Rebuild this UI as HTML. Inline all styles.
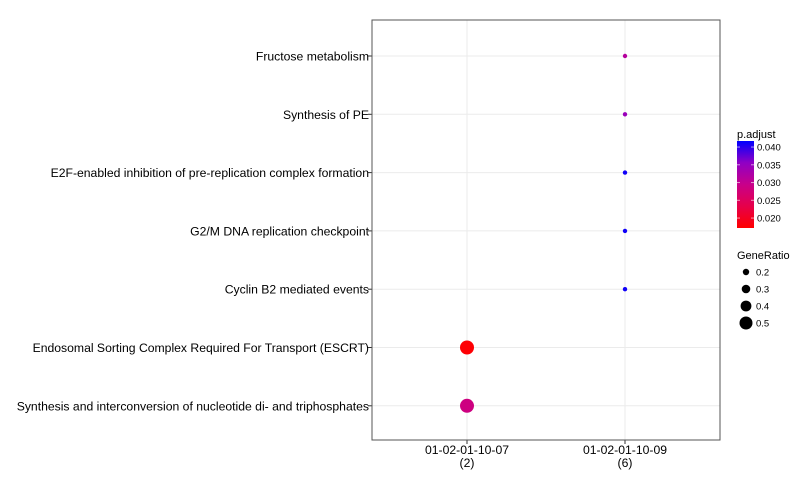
<!DOCTYPE html>
<html><head><meta charset="utf-8"><style>
body{margin:0;background:#fff;font-family:"Liberation Sans",sans-serif;}
</style></head><body>
<svg width="800" height="480" xmlns="http://www.w3.org/2000/svg" font-family="Liberation Sans, sans-serif">
<defs><linearGradient id="cb" x1="0" y1="1" x2="0" y2="0">
<stop offset="0" stop-color="#ff0000"/><stop offset="0.25" stop-color="#e6004a"/><stop offset="0.5" stop-color="#c8008a"/><stop offset="0.75" stop-color="#9000c4"/><stop offset="1" stop-color="#0000ff"/></linearGradient></defs>
<g id="plot"></g>
</svg>
<script>
const categories=["01-02-01-10-07\n(2)","01-02-01-10-09\n(6)"];
const terms=["Fructose metabolism","Synthesis of PE","E2F-enabled inhibition of pre-replication complex formation","G2/M DNA replication checkpoint","Cyclin B2 mediated events","Endosomal Sorting Complex Required For Transport (ESCRT)","Synthesis and interconversion of nucleotide di- and triphosphates"];
const pointCat=[1,1,1,1,1,0,0];
const pointRatio=[0.167,0.167,0.167,0.167,0.167,0.5,0.5];
const pointP=[0.0315,0.0345,0.041,0.041,0.041,0.0175,0.0285];
const pTicks=[0.020,0.025,0.030,0.035,0.040];
const sizeTicks=[0.2,0.3,0.4,0.5];
const NS="http://www.w3.org/2000/svg";
const g=document.getElementById('plot');
function mk(t,a,p){const e=document.createElementNS(NS,t);for(const k in a)e.setAttribute(k,a[k]);(p||g).appendChild(e);return e;}
const L=372,R=720,T=20,B=440;
const xS=i=>467+i*158;
const yS=i=>56+i*58.3;
const pMin=0.0172,pMax=0.0417;
const stops=[[255,0,0],[230,0,74],[200,0,138],[144,0,196],[0,0,255]];
function col(p){let t=(p-pMin)/(pMax-pMin);t=Math.max(0,Math.min(1,t));const s=t*4,i=Math.min(3,Math.floor(s)),f=s-i;
const c=stops[i].map((v,k)=>Math.round(v+(stops[i+1][k]-v)*f));return `rgb(${c[0]},${c[1]},${c[2]})`;}
const rS=v=>2.2+(v-0.167)/(0.5-0.167)*4.8;
const rL=v=>3.2+(v-0.2)/0.3*3.3;
const cbY=p=>228-(p-pMin)/(pMax-pMin)*87;
let e=mk('rect',{x:L,y:T,width:R-L,height:B-T,fill:'#fff',stroke:'none'});

terms.forEach((t,i)=>{let l=mk('line',{x1:L,x2:R,y1:yS(i),y2:yS(i),stroke:'#ebebeb','stroke-width':1});

let tk=mk('line',{x1:L-4,x2:L,y1:yS(i),y2:yS(i),stroke:'#333'});

let tx=mk('text',{x:L-3,y:yS(i)+4.5,'text-anchor':'end','font-size':12.2,fill:'#000'});tx.textContent=t;
});
categories.forEach((c,i)=>{let l=mk('line',{x1:xS(i),x2:xS(i),y1:T,y2:B,stroke:'#ebebeb'});

let tk=mk('line',{x1:xS(i),x2:xS(i),y1:B,y2:B+4,stroke:'#333'});

c.split('\n').forEach((s,j)=>{let tx=mk('text',{x:xS(i),y:B+14+j*13,'text-anchor':'middle','font-size':12.2,fill:'#000'});tx.textContent=s;
});});
e=mk('rect',{x:L,y:T,width:R-L,height:B-T,fill:'none',stroke:'#555','stroke-width':1});

terms.forEach((t,i)=>{let c=mk('circle',{cx:xS(pointCat[i]),cy:yS(i),r:rS(pointRatio[i]),fill:col(pointP[i])});
});
e=mk('text',{x:737,y:138,'font-size':11});e.textContent='p.adjust';

e=mk('rect',{x:737,y:141,width:17,height:87,fill:'url(#cb)'});

pTicks.forEach(p=>{let l=mk('line',{x1:737,x2:740,y1:cbY(p),y2:cbY(p),stroke:'#fff','stroke-opacity':0.6});

l=mk('line',{x1:751,x2:754,y1:cbY(p),y2:cbY(p),stroke:'#fff','stroke-opacity':0.6});

let tx=mk('text',{x:757,y:cbY(p)+3.5,'font-size':9.5});tx.textContent=p.toFixed(3);
});
e=mk('text',{x:737,y:259,'font-size':11});e.textContent='GeneRatio';

sizeTicks.forEach((s,i)=>{const y=272+i*17;let c=mk('circle',{cx:746,cy:y,r:rL(s),fill:'#000'});

let tx=mk('text',{x:756,y:y+3.5,'font-size':9.5});tx.textContent=s.toFixed(1);
});
</script>
</body></html>
